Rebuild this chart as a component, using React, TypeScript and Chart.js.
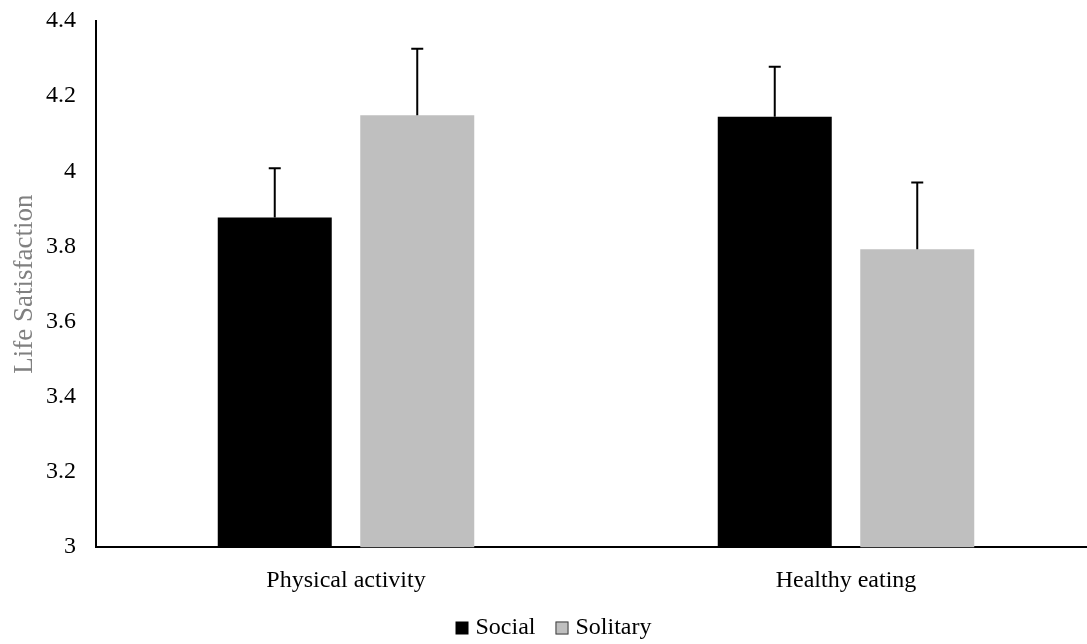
import React, { useEffect, useRef } from "react";
import { Chart, registerables } from "chart.js";

Chart.register(...registerables);

const categories = ["Physical activity", "Healthy eating"];
const socialValues = [3.877, 4.145];
const socialErrors = [0.131, 0.133];
const solitaryValues = [4.149, 3.793];
const solitaryErrors = [0.177, 0.177];
const yTicks = [3, 3.2, 3.4, 3.6, 3.8, 4, 4.2, 4.4];

const FONT = "'Liberation Serif', 'Times New Roman', serif";

const errorBarPlugin = {
  id: "errorBars",
  afterDatasetsDraw(chart: any) {
    const ctx = chart.ctx;
    const yScale = chart.scales.y;
    chart.data.datasets.forEach((ds: any, di: number) => {
      const meta = chart.getDatasetMeta(di);
      const errs: number[] = ds.errors || [];
      meta.data.forEach((bar: any, i: number) => {
        const v = ds.data[i];
        const e = errs[i];
        if (e == null) return;
        const x = bar.x;
        const yTop = yScale.getPixelForValue(v + e);
        const yBase = yScale.getPixelForValue(v);
        ctx.save();
        ctx.strokeStyle = "#000";
        ctx.lineWidth = 2;
        ctx.beginPath();
        ctx.moveTo(x, yBase);
        ctx.lineTo(x, yTop);
        ctx.moveTo(x - 6, yTop);
        ctx.lineTo(x + 6, yTop);
        ctx.stroke();
        ctx.restore();
      });
    });
  },
};

// Simple bottom legend drawn from the datasets' labels and colours
const legendPlugin = {
  id: "bottomLegend",
  afterDraw(chart: any) {
    const ctx = chart.ctx;
    const box = 13;
    const gapText = 7;
    const gapItem = 20;
    ctx.save();
    ctx.font = `24px ${FONT}`;
    ctx.textBaseline = "middle";
    ctx.textAlign = "left";
    const items = chart.data.datasets.map((ds: any) => ({
      label: ds.label,
      color: ds.backgroundColor,
      stroke: ds.legendStroke,
      w: ctx.measureText(ds.label).width,
    }));
    let total = 0;
    items.forEach((it: any, i: number) => {
      total += box + gapText + it.w + (i < items.length - 1 ? gapItem : 0);
    });
    let x = chart.width / 2 - total / 2;
    const cy = chart.height - 16;
    items.forEach((it: any) => {
      ctx.fillStyle = it.color;
      ctx.fillRect(x, cy - box / 2, box, box);
      if (it.stroke) {
        ctx.strokeStyle = it.stroke;
        ctx.lineWidth = 1;
        ctx.strokeRect(x + 0.5, cy - box / 2 + 0.5, box - 1, box - 1);
      }
      x += box + gapText;
      ctx.fillStyle = "#000";
      ctx.fillText(it.label, x, cy);
      x += it.w + gapItem;
    });
    ctx.restore();
  },
};

export default function App() {
  const ref = useRef<HTMLCanvasElement | null>(null);
  useEffect(() => {
    if (!ref.current) return;
    const chart = new Chart(ref.current, {
      type: "bar",
      data: {
        labels: categories,
        datasets: [
          {
            label: "Social",
            data: socialValues,
            errors: socialErrors,
            backgroundColor: "#000000",
            borderWidth: 0,
            categoryPercentage: 0.57,
            barPercentage: 0.8,
          } as any,
          {
            label: "Solitary",
            data: solitaryValues,
            errors: solitaryErrors,
            backgroundColor: "#bfbfbf",
            legendStroke: "#404040",
            borderWidth: 0,
            categoryPercentage: 0.57,
            barPercentage: 0.8,
          } as any,
        ],
      },
      options: {
        responsive: false,
        animation: false,
        layout: { padding: { left: 0, right: 11, top: 21, bottom: 30 } },
        plugins: {
          tooltip: { enabled: false },
          legend: { display: false },
        },
        scales: {
          x: {
            grid: { display: false, drawTicks: false },
            border: { display: true, color: "#000", width: 2 },
            ticks: {
              font: { family: FONT, size: 24 },
              color: "#000",
              padding: 19,
            },
          },
          y: {
            min: 3,
            max: 4.4,
            afterBuildTicks: (s: any) => {
              s.ticks = yTicks.map((v) => ({ value: v }));
            },
            afterFit: (s: any) => {
              s.width = 96;
              s.paddingTop = 0;
              s.paddingBottom = 0;
            },
            grid: { display: false, drawTicks: false },
            border: { display: true, color: "#000", width: 2 },
            ticks: {
              font: { family: FONT, size: 24 },
              color: "#000",
              padding: 20,
              callback: (v: any) => String(Number(Number(v).toFixed(1))),
            },
            title: {
              display: true,
              text: "Life Satisfaction",
              color: "#808080",
              font: { family: FONT, size: 27 },
              padding: { top: 9, bottom: 0 },
            },
          },
        },
      },
      plugins: [errorBarPlugin, legendPlugin],
    });
    return () => chart.destroy();
  }, []);

  return (
    <div
      style={{
        position: "fixed",
        left: 0,
        top: 0,
        width: 1087,
        height: 644,
        overflow: "hidden",
        background: "#fff",
      }}
    >
      <canvas ref={ref} width={1107} height={644} style={{ width: 1107, height: 644, display: "block" }} />
    </div>
  );
}
